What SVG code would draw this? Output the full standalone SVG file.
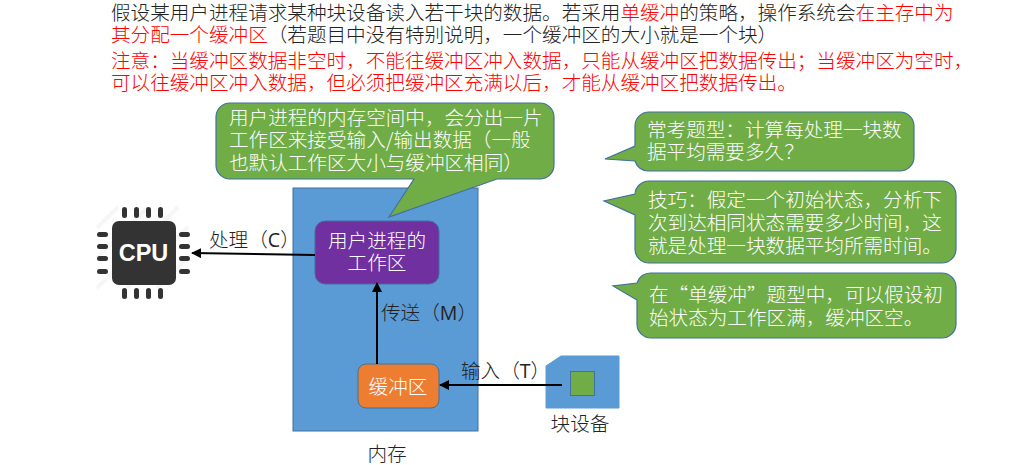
<svg xmlns="http://www.w3.org/2000/svg" width="1033" height="465" viewBox="0 0 1033 465">
<style>
text{font-family:"Noto Sans CJK SC","Liberation Sans",sans-serif;font-size:19.600px;font-weight:300;fill:#222}
.w{fill:#fff}
.r{fill:#f00}
.m{text-anchor:middle}
.b{fill:#70ad47;stroke:#41719c;stroke-width:1.2}
.p{fill:#333}
.c{fill:none;stroke:#000;stroke-width:2}
.s{stroke:#f6f6f6;stroke-width:4}
.l{font-family:"Open Sans","Liberation Sans",sans-serif;font-weight:400}
</style>
<defs><marker id="a" viewBox="0 0 10 10" refX="9" refY="5" markerWidth="5" markerHeight="5" orient="auto"><path d="M0 0L10 5L0 10z" fill="#000"/></marker></defs>
<rect width="1033" height="465" fill="#fff"/>
<g id="header">
<text x="111" y="20">假设某用户进程请求某种块设备读入若干块的数据。若采用<tspan class="r">单缓冲</tspan>的策略&#xFF0C;操作系统会<tspan class="r">在主存中为</tspan></text>
<text x="111" y="42"><tspan class="r">其分配一个缓冲区</tspan>&#xFF08;若题目中没有特别说明&#xFF0C;一个缓冲区的大小就是一个块&#xFF09;</text>
<text x="111" y="68" class="r">注意&#xFF1A;当缓冲区数据非空时&#xFF0C;不能往缓冲区冲入数据&#xFF0C;只能从缓冲区把数据传出&#xFF1B;当缓冲区为空时&#xFF0C;</text>
<text x="111" y="90" class="r">可以往缓冲区冲入数据&#xFF0C;但必须把缓冲区充满以后&#xFF0C;才能从缓冲区把数据传出。</text>
</g>
<g id="memory"><rect x="293" y="188" width="185" height="243" fill="#5b9bd5" stroke="#41719c"/><text x="387" y="461" class="m">内存</text></g>
<g id="bubble-workspace"><path class="b" d="M230 103H540A14 14 0 0 1 554 117V165A14 14 0 0 1 540 179H497L389 217L414 179H230A14 14 0 0 1 216 165V117A14 14 0 0 1 230 103Z"/>
<text x="229" y="125" class="w">用户进程的内存空间中&#xFF0C;会分出一片</text>
<text x="229" y="147" class="w">工作区来接受输入/输出数据&#xFF08;一般</text>
<text x="229" y="170" class="w">也默认工作区大小与缓冲区相同&#xFF09;</text></g>
<g id="workspace"><rect x="315" y="221" width="124" height="63" rx="10" fill="#7030a0" stroke="#41719c"/><text x="377" y="248" class="w m">用户进程的</text><text x="377" y="270" class="w m">工作区</text></g>
<g id="buffer"><rect x="358" y="364" width="81" height="44" rx="8" fill="#ed7d31" stroke="#41719c"/><text x="398" y="394" class="w m">缓冲区</text></g>
<g id="device"><path d="M546 366L561 356H619V408H546Z" fill="#5b9bd5" stroke="#5b9bd5"/><rect x="570.500" y="371.500" width="24" height="24" fill="#70ad47" stroke="#41719c"/><text x="580" y="431" class="m">块设备</text></g>
<g id="cpu">
<path class="s" d="M97 228L118 207M97 258L148 207M97 288L178 207M127 288L188 227M157 288L188 257"/>
<rect x="112" y="221" width="64" height="64" rx="7" class="p"/>
<g class="p"><rect x="122" y="207" width="5" height="11" rx="2.500"/><rect x="134" y="207" width="5" height="11" rx="2.500"/><rect x="146" y="207" width="5" height="11" rx="2.500"/><rect x="158" y="207" width="5" height="11" rx="2.500"/>
<rect x="122" y="288" width="5" height="11" rx="2.500"/><rect x="134" y="288" width="5" height="11" rx="2.500"/><rect x="146" y="288" width="5" height="11" rx="2.500"/><rect x="158" y="288" width="5" height="11" rx="2.500"/>
<rect x="97" y="232" width="11" height="5" rx="2.500"/><rect x="97" y="244" width="11" height="5" rx="2.500"/><rect x="97" y="256" width="11" height="5" rx="2.500"/><rect x="97" y="269" width="11" height="5" rx="2.500"/>
<rect x="179" y="232" width="11" height="5" rx="2.500"/><rect x="179" y="244" width="11" height="5" rx="2.500"/><rect x="179" y="256" width="11" height="5" rx="2.500"/><rect x="179" y="269" width="11" height="5" rx="2.500"/></g>
<text x="143.500" y="261" class="m" style="font-family:'Liberation Sans',sans-serif;font-weight:700;font-size:23.500px;fill:#fff">CPU</text></g>
<g id="connectors">
<path class="c" d="M315 255L192 253" marker-end="url(#a)"/>
<path class="c" d="M377 364V283" marker-end="url(#a)"/>
<path class="c" d="M562 385H440" marker-end="url(#a)"/>
</g>
<g id="edge-labels">
<text x="209" y="247">处理&#xFF08;<tspan class="l">C</tspan>&#xFF09;</text>
<text x="381" y="320">传送&#xFF08;<tspan class="l">M</tspan>&#xFF09;</text>
<text x="461" y="378">输入&#xFF08;<tspan class="l">T</tspan>&#xFF09;</text>
</g>
<g id="bubble-1"><path class="b" d="M649 112H900A14 14 0 0 1 914 126V157A14 14 0 0 1 900 171H649A14 14 0 0 1 635 161L605 159L635 146V126A14 14 0 0 1 649 112Z"/>
<text x="647" y="137" class="w">常考题型&#xFF1A;计算每处理一块数</text><text x="647" y="159" class="w">据平均需要多久&#xFF1F;</text></g>
<g id="bubble-2"><path class="b" d="M649 181H942A14 14 0 0 1 956 195V249A14 14 0 0 1 942 263H649A14 14 0 0 1 635 249V215L604 201L635 194A14 14 0 0 1 649 181Z"/>
<text x="648" y="207" class="w">技巧&#xFF1A;假定一个初始状态&#xFF0C;分析下</text><text x="648" y="230" class="w">次到达相同状态需要多少时间&#xFF0C;这</text><text x="648" y="253" class="w">就是处理一块数据平均所需时间。</text></g>
<g id="bubble-3"><path class="b" d="M651 273H942A14 14 0 0 1 956 287V324A14 14 0 0 1 942 338H651A14 14 0 0 1 637 324V300L613 286L637 283A14 14 0 0 1 651 273Z"/>
<text x="649" y="302" class="w">在&#x201C;单缓冲&#x201D;题型中&#xFF0C;可以假设初</text><text x="649" y="325" class="w">始状态为工作区满&#xFF0C;缓冲区空。</text></g>
</svg>
